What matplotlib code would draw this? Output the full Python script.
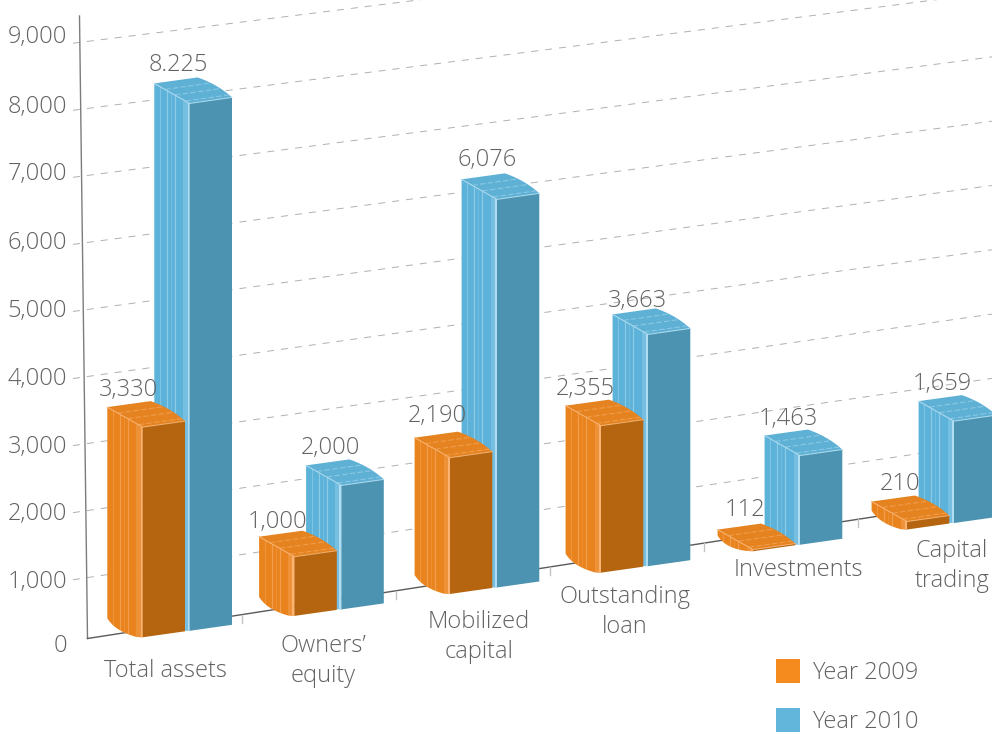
import numpy as np
import matplotlib
matplotlib.use("Agg")
import matplotlib.pyplot as plt
from matplotlib.patches import Polygon, Rectangle

categories = ["Total assets", "Owners’\nequity", "Mobilized\ncapital",
              "Outstanding\nloan", "Investments", "Capital\ntrading"]
year_2009 = [3330, 1000, 2190, 2355, 112, 210]
year_2010 = [8225, 2000, 6076, 3663, 1463, 1659]
labels_2009 = ["3,330", "1,000", "2,190", "2,355", "112", "210"]
labels_2010 = ["8.225", "2,000", "6,076", "3,663", "1,463", "1,659"]
y_ticks = [0, 1000, 2000, 3000, 4000, 5000, 6000, 7000, 8000, 9000]
y_tick_labels = ["0", "1,000", "2,000", "3,000", "4,000", "5,000", "6,000", "7,000", "8,000", "9,000"]
legend_names = ["Year 2009", "Year 2010"]

FONT = "Open Sans"
TXT = "#626262"
FS = 17

fig = plt.figure(figsize=(9.92, 7.34), dpi=100)
ax = fig.add_axes([0, 0, 1, 1])
ax.set_xlim(0, 992)
ax.set_ylim(734, 0)
ax.axis("off")


def grid_y(x, v):
    y0 = 646.5 - 0.06706 * v
    y1 = 552.6 - 0.0652 * v
    return y0 + (y1 - y0) * (x - 75) / (692 - 75)


def bar_height(v):
    return 0.0648 * v - 5.6


# gridlines
for v in y_ticks[1:]:
    xs = np.array([73, 992.0])
    ax.plot(xs, grid_y(xs, v), color="#b0b0b0", lw=0.7, dashes=(7.2, 7.2), zorder=1)

# axes
ax.plot([79.5, 87.5], [16, 638.5], color="#7c7c7c", lw=1.0, zorder=2)
ax.plot([87.5, 905], [638.5, 512], color="#5a5a5a", lw=1.0, zorder=2)
for i in range(1, 6):
    tx = 87.5 + 154.0 * i
    ty = 638.5 - 0.155 * (tx - 87.5)
    ax.plot([tx, tx], [ty, ty + 8], color="#c4c4c4", lw=1.0, zorder=2)

W = np.array([42.3, -6.0])
D_TOP = np.array([-35.4, -20.0])
D_BOT = np.array([-35.4, -19.0])


def bez(p0, p1, p2, n=24):
    t = np.linspace(0, 1, n)[:, None]
    return (1 - t) ** 2 * p0 + 2 * t * (1 - t) * p1 + t ** 2 * p2


def draw_bar(fx, fy, v, side, light, top, front, z):
    h = bar_height(v)
    Fb = np.array([fx, fy])
    Ft = Fb - [0, h]
    Bt = Ft + D_TOP
    Bb = Fb + D_BOT
    Bb[1] = max(Bb[1], Bt[1] + 6)
    Rt = Ft + W
    Rb = Fb + W
    BRt = Bt + W + [1, 0]
    # front
    ax.add_patch(Polygon([Ft, Rt, Rb, Fb], closed=True, fc=front, ec="none", zorder=z + 0.3))
    # side with a rounded bottom corner
    curve = bez(Bb, np.array([Bb[0] + 8, Bb[1] + 13]), Fb - [6, 0.3])
    side_poly = Polygon(np.vstack([[Bt], [Ft], [Fb], curve[::-1]]), closed=True,
                        fc=side, ec="none", zorder=z)
    ax.add_patch(side_poly)
    # lighter band and stripes on the side
    w_side = Ft[0] - Bt[0]
    ymin, ymax = Bt[1] - 5, Fb[1] + 5
    band = ax.fill([Bt[0] + 0.82 * w_side, Ft[0], Ft[0], Bt[0] + 0.82 * w_side],
                   [ymin, ymin, ymax, ymax], color=light, alpha=0.3, lw=0, zorder=z + 0.1)[0]
    band.set_clip_path(side_poly)
    for f, lw, a in [(0.16, 0.7, 0.4), (0.36, 0.9, 0.55), (0.47, 0.7, 0.25), (0.58, 0.9, 0.55), (0.97, 2.2, 0.95)]:
        ln, = ax.plot([Bt[0] + f * w_side] * 2, [ymin, ymax], color=light, lw=lw, alpha=a, zorder=z + 0.15)
        ln.set_clip_path(side_poly)
    # top with a slightly rounded back right corner
    arc = bez(BRt, 0.5 * (BRt + Rt) + [3, -3], Rt)
    top_poly = Polygon(np.vstack([[Bt], arc, [Ft]]), closed=True, fc=top, ec="none", zorder=z + 0.2)
    ax.add_patch(top_poly)
    for f in (0.30, 0.58, 0.88):
        a0 = Bt - D_TOP * f
        ln, = ax.plot([a0[0], a0[0] + W[0] * 1.05], [a0[1], a0[1] + W[1] * 1.05], color=light, lw=0.8,
                      alpha=0.5, dashes=(5, 2), zorder=z + 0.25)
        ln.set_clip_path(top_poly)
    ax.plot([Bt[0], Ft[0], Rt[0]], [Bt[1], Ft[1], Rt[1]], color=light, lw=0.8, alpha=0.8, zorder=z + 0.35)


ORANGE = dict(side="#E8831E", light="#FBB575", top="#E58320", front="#B5650F")
BLUE = dict(side="#5CB2D9", light="#B4DFF2", top="#5EB0D5", front="#4C93B2")

front_x = [142.7, 294.5, 450.0, 601.0, 753.0, 907.0]
for i in range(len(categories)):
    fx = front_x[i]
    fy = 637.3 - 0.141 * (fx - 142.7)
    draw_bar(fx + 47, fy - 6.5, year_2010[i], z=3 + 2 * i, **BLUE)
    draw_bar(fx, fy, year_2009[i], z=4 + 2 * i, **ORANGE)

txt = dict(family=FONT, weight="light", color=TXT, fontsize=FS, ha="center", va="center", zorder=30)

# y tick labels
tick_pos = [646, 582, 514, 447, 379, 311, 243, 174, 107, 37]
for lab, y in zip(y_tick_labels, tick_pos):
    ax.text(67, y, lab, **{**txt, "ha": "right"})

# value labels
pos_2009 = [(129, 390), (278, 522), (437, 416), (585, 389), (745, 510), (900, 484)]
pos_2010 = [(178, 65), (330, 448), (487, 160), (637, 301), (788, 419), (942, 384)]
for lab, p in zip(labels_2009, pos_2009):
    ax.text(p[0], p[1], lab, **txt)
for lab, p in zip(labels_2010, pos_2010):
    ax.text(p[0], p[1], lab, **txt)

# category labels
cat_pos = [(165.5, 671), (323, 661), (479, 637), (625, 612), (798, 570), (952, 566)]
for lab, p in zip(categories, cat_pos):
    ax.text(p[0], p[1], lab, linespacing=1.38, **txt)

# legend
for name, col, y in zip(legend_names, ["#F58A1F", "#62B6DC"], [659, 708]):
    ax.add_patch(Rectangle((776, y), 24, 24, fc=col, ec="none", zorder=30))
    ax.text(812, y + 14, name, **{**txt, "ha": "left"})

fig.savefig("out.png", dpi=100)
